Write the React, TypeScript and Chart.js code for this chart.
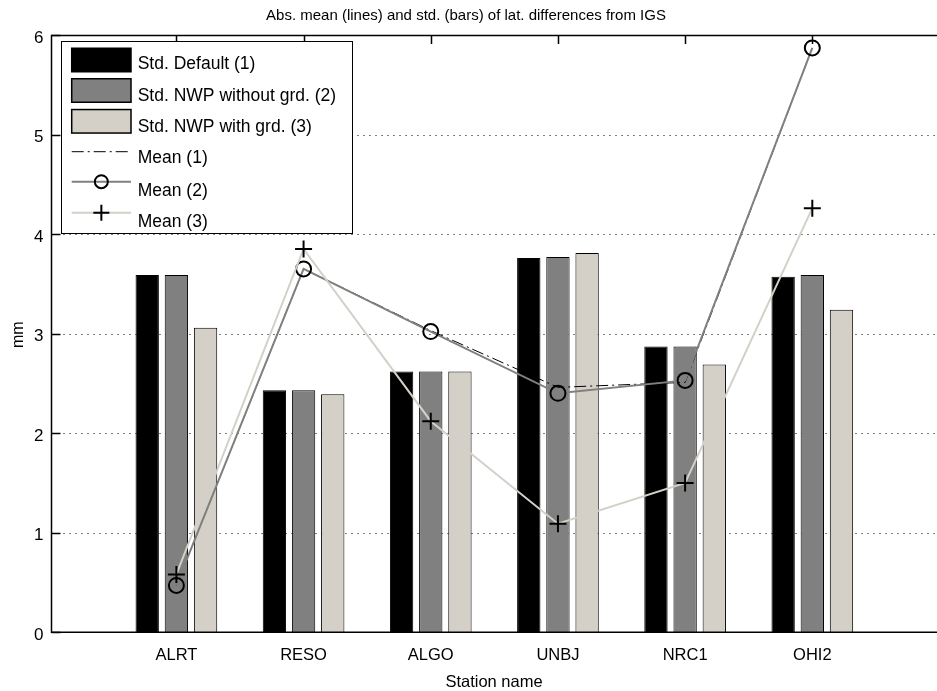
import React, { useEffect, useRef } from 'react';
import { Chart, registerables } from 'chart.js';

Chart.register(...registerables);

const stations = ['ALRT', 'RESO', 'ALGO', 'UNBJ', 'NRC1', 'OHI2'];
const stdDefault = [3.59, 2.43, 2.62, 3.76, 2.87, 3.57];
const stdNwpNoGrd = [3.59, 2.43, 2.62, 3.77, 2.87, 3.59];
const stdNwpGrd = [3.06, 2.39, 2.62, 3.81, 2.69, 3.24];
const mean1 = [0.47, 3.65, 3.03, 2.46, 2.51, 5.87];
const mean2 = [0.47, 3.65, 3.02, 2.40, 2.53, 5.87];
const mean3 = [0.58, 3.85, 2.12, 1.09, 1.50, 4.26];
const yTicks = [0, 1, 2, 3, 4, 5, 6];
const titleText = 'Abs. mean (lines) and std. (bars) of lat. differences from IGS';
const xTitle = 'Station name';
const yTitle = 'mm';
const legendLabels = [
  'Std. Default (1)',
  'Std. NWP without grd. (2)',
  'Std. NWP with grd. (3)',
  'Mean (1)',
  'Mean (2)',
  'Mean (3)',
];

const FONT = '"Liberation Sans", Arial, Helvetica, sans-serif';
const BLACK = '#000000';
const GRAY = '#808080';
const LIGHT = '#d4d0c8';

// xlim [0, 7]: blank categories at both ends
const xLabels = ['', ...stations, ''];
const pad = (a: number[]) => [null, ...a, null];

const matlabPlugin = {
  id: 'matlabAxes',
  beforeDatasetsDraw(chart: any) {
    const { ctx, chartArea, scales } = chart;
    const y = scales.y;
    const x = scales.x;
    const frameX = chartArea.left + 2.3;
    ctx.save();
    // dotted grid
    ctx.strokeStyle = '#000';
    ctx.lineWidth = 1;
    ctx.setLineDash([1, 5]);
    yTicks.forEach((v) => {
      if (v === 0 || v === 6) return;
      const py = Math.round(y.getPixelForValue(v)) + 0.5;
      ctx.beginPath();
      ctx.moveTo(frameX, py);
      ctx.lineTo(chart.width, py);
      ctx.stroke();
    });
    ctx.setLineDash([]);
    // inward ticks left
    ctx.lineWidth = 1.5;
    yTicks.forEach((v) => {
      const py = Math.round(y.getPixelForValue(v)) + 0.5;
      ctx.beginPath();
      ctx.moveTo(frameX, py);
      ctx.lineTo(frameX + 9, py);
      ctx.stroke();
    });
    // bottom ticks (under bars)
    stations.forEach((_, i) => {
      const px = Math.round(x.getPixelForValue(i + 1)) + 0.5;
      ctx.beginPath();
      ctx.moveTo(px, chartArea.bottom);
      ctx.lineTo(px, chartArea.bottom - 9);
      ctx.stroke();
    });
    ctx.restore();
  },
  afterDatasetsDraw(chart: any) {
    const { ctx, chartArea, scales } = chart;
    const y = scales.y;
    const x = scales.x;
    const frameX = chartArea.left + 2.3;
    ctx.save();
    // frame
    ctx.strokeStyle = '#000';
    ctx.lineWidth = 1.5;
    ctx.beginPath();
    ctx.moveTo(chart.width, chartArea.top + 0.5);
    ctx.lineTo(frameX, chartArea.top + 0.5);
    ctx.lineTo(frameX, chartArea.bottom);
    ctx.lineTo(chart.width, chartArea.bottom);
    ctx.stroke();
    // top ticks
    stations.forEach((_, i) => {
      const px = Math.round(x.getPixelForValue(i + 1)) + 0.5;
      ctx.beginPath();
      ctx.moveTo(px, chartArea.top);
      ctx.lineTo(px, chartArea.top + 9);
      ctx.stroke();
    });

    ctx.fillStyle = '#000';
    ctx.textBaseline = 'alphabetic';
    // y tick labels
    ctx.font = `17px ${FONT}`;
    ctx.textAlign = 'right';
    yTicks.forEach((v) => {
      ctx.fillText(String(v), 43.5, y.getPixelForValue(v) + 7.5);
    });
    // x tick labels
    ctx.font = `16.5px ${FONT}`;
    ctx.textAlign = 'center';
    stations.forEach((s, i) => {
      ctx.fillText(s, x.getPixelForValue(i + 1), 660);
    });
    // x title
    ctx.fillText(xTitle, 494, 686.7);
    // title
    ctx.font = `15px ${FONT}`;
    ctx.fillText(titleText, 466, 20);
    // y title
    ctx.save();
    ctx.translate(22.7, 334.7);
    ctx.rotate(-Math.PI / 2);
    ctx.font = `16px ${FONT}`;
    ctx.textAlign = 'center';
    ctx.fillText(yTitle, 0, 0);
    ctx.restore();

    // legend
    const lx = 61.5, ly = 41.5, lw = 291, lh = 192;
    ctx.fillStyle = '#fff';
    ctx.fillRect(lx, ly, lw, lh);
    ctx.strokeStyle = '#000';
    ctx.lineWidth = 1;
    ctx.strokeRect(lx, ly, lw, lh);

    const swX = 71.7, swW = 59.3, swH = 23.5;
    const textX = 137.7;
    const baselines = [69.3, 100.7, 131.7, 163.3, 195.7, 226.7];
    const swCenters = [60, 90.5, 121.3];
    const lineYs = [151.7, 181.7, 212.7];
    const ds = chart.data.datasets;
    for (let i = 0; i < 3; i++) {
      ctx.fillStyle = ds[i].backgroundColor;
      ctx.fillRect(swX, swCenters[i] - swH / 2, swW, swH);
      ctx.strokeStyle = '#000';
      ctx.lineWidth = 1.5;
      ctx.strokeRect(swX, swCenters[i] - swH / 2, swW, swH);
    }
    for (let j = 0; j < 3; j++) {
      const d = ds[3 + j];
      const ly2 = lineYs[j];
      ctx.save();
      ctx.strokeStyle = d.borderColor;
      ctx.lineWidth = d.borderWidth;
      ctx.setLineDash(d.borderDash || []);
      ctx.beginPath();
      ctx.moveTo(swX, ly2);
      ctx.lineTo(swX + swW, ly2);
      ctx.stroke();
      ctx.restore();
      const cx = swX + swW / 2;
      if (d.pointStyle === 'circle') {
        ctx.strokeStyle = '#000';
        ctx.lineWidth = 2;
        ctx.beginPath();
        ctx.arc(cx, ly2, 6.5, 0, Math.PI * 2);
        ctx.stroke();
      } else if (d.pointStyle === 'cross') {
        ctx.strokeStyle = '#000';
        ctx.lineWidth = 2;
        ctx.beginPath();
        ctx.moveTo(cx - 8, ly2);
        ctx.lineTo(cx + 8, ly2);
        ctx.moveTo(cx, ly2 - 8);
        ctx.lineTo(cx, ly2 + 8);
        ctx.stroke();
      }
    }
    ctx.fillStyle = '#000';
    ctx.font = `17.5px ${FONT}`;
    ctx.textAlign = 'left';
    legendLabels.forEach((t, i) => {
      ctx.fillText(t, textX, baselines[i]);
    });
    ctx.restore();
  },
};

export default function App() {
  const ref = useRef<HTMLCanvasElement | null>(null);

  useEffect(() => {
    document.body.style.margin = '0';
    document.body.style.overflow = 'hidden';
    const canvas = ref.current;
    if (!canvas) return;
    const barCommon = {
      borderColor: BLACK,
      borderWidth: 1,
      categoryPercentage: 0.688,
      barPercentage: 0.8,
      order: 10,
    };
    const chart = new Chart(canvas, {
      type: 'bar',
      data: {
        labels: xLabels,
        datasets: [
          { type: 'bar', label: legendLabels[0], data: pad(stdDefault), backgroundColor: BLACK, ...barCommon },
          { type: 'bar', label: legendLabels[1], data: pad(stdNwpNoGrd), backgroundColor: GRAY, ...barCommon },
          { type: 'bar', label: legendLabels[2], data: pad(stdNwpGrd), backgroundColor: LIGHT, ...barCommon },
          {
            type: 'line', label: legendLabels[3], data: pad(mean1),
            borderColor: BLACK, borderWidth: 1, borderDash: [12, 4, 2, 4],
            pointRadius: 0, tension: 0, order: 3,
          },
          {
            type: 'line', label: legendLabels[4], data: pad(mean2),
            borderColor: GRAY, borderWidth: 2, tension: 0, order: 2,
            pointStyle: 'circle', pointRadius: 7.5, pointBorderWidth: 2,
            pointBorderColor: BLACK, pointBackgroundColor: 'rgba(0,0,0,0)',
          },
          {
            type: 'line', label: legendLabels[5], data: pad(mean3),
            borderColor: LIGHT, borderWidth: 2, tension: 0, order: 1,
            pointStyle: 'cross', pointRadius: 8.5, pointBorderWidth: 2,
            pointBorderColor: BLACK, pointBackgroundColor: BLACK,
          },
        ],
      } as any,
      options: {
        responsive: false,
        animation: false,
        layout: { padding: { left: 49.2, right: 6.2, top: 35, bottom: 58.8 } },
        scales: {
          x: { display: false, offset: false },
          y: { display: false, min: 0, max: 6 },
        },
        plugins: {
          legend: { display: false },
          title: { display: false },
          tooltip: { enabled: false },
        },
      } as any,
      plugins: [matlabPlugin],
    });
    return () => chart.destroy();
  }, []);

  return (
    <div style={{ width: 937, height: 691, overflow: 'hidden', position: 'relative', background: '#fff' }}>
      <canvas ref={ref} width={950} height={691} style={{ display: 'block', width: 950, height: 691 }} />
    </div>
  );
}
